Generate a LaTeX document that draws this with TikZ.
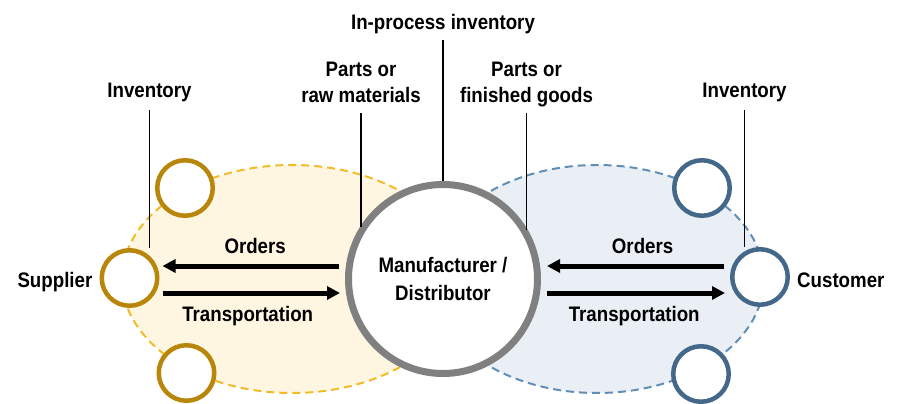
\documentclass[tikz,border=0pt]{standalone}
\usepackage{fontspec}
\setmainfont{Liberation Sans}[FakeStretch=0.89]
\usetikzlibrary{positioning,arrows.meta}
\definecolor{supGold}{RGB}{184,134,11}
\definecolor{supFill}{RGB}{255,246,225}
\definecolor{supDash}{RGB}{242,188,40}
\definecolor{cusBlue}{RGB}{68,104,138}
\definecolor{cusFill}{RGB}{234,239,245}
\definecolor{cusDash}{RGB}{98,142,182}
\definecolor{mfgGray}{RGB}{128,128,128}
\newcommand{\lblfont}{\fontsize{21}{26}\selectfont\bfseries}
\tikzset{
  lbl/.style={font=\lblfont, inner sep=0pt, text height=15pt, text depth=4.5pt},
  lbltwo/.style={font=\lblfont, inner sep=0pt, align=center},
  site/.style={circle, draw=#1, line width=4.5pt, fill=white, minimum size=55.5pt, inner sep=0pt},
  lead/.style={black, line width=1.8pt},
  flow/.style={line width=5pt, -{Triangle[length=13pt,width=13pt]}},
  zone/.style={draw=#1, dash pattern=on 8pt off 5pt, line width=2pt}
}

\begin{document}
\begin{tikzpicture}[x=1pt, y=-1pt]
  \useasboundingbox (0,0) rectangle (900,404);
  % supplier and customer areas
  \draw[zone=supDash, fill=supFill] (292,279) ellipse [x radius=170pt, y radius=114pt];
  \draw[zone=cusDash, fill=cusFill] (597,279) ellipse [x radius=167pt, y radius=114pt];

  % sites
  \node[site=supGold] (supC) at (129.5,278) {};
  \node[site=supGold] (supTop) at (185,188) {};
  \node[site=supGold] (supBot) at (186.5,373) {};
  \node[site=cusBlue] (cusC) at (760,277) {};
  \node[site=cusBlue] (cusTop) at (702,188) {};
  \node[site=cusBlue] (cusBot) at (701,374) {};
  \node[circle, draw=mfgGray, line width=7pt, fill=white, minimum size=189pt, inner sep=0pt,
        font=\fontsize{21}{28}\selectfont\bfseries, align=center] (mfgC) at (443,279) {Manufacturer /\\Distributor};

  % labels
  \node[lbl, left=7pt of supC, yshift=-4pt] (supL) {Supplier};
  \node[lbl, right=7pt of cusC, yshift=-5pt] (cusL) {Customer};
  \node[lbl, anchor=base] (inproc) at (443,30) {In-process inventory};
  \node[lbl, anchor=base] (invSup) at (149.5,98) {Inventory};
  \node[lbl, anchor=base] (invCus) at (744.5,98) {Inventory};
  \node[lbltwo, anchor=north] (raw) at (361,62) {Parts or\\raw materials};
  \node[lbltwo, anchor=north] (fin) at (526.5,62) {Parts or\\finished goods};

  % leader lines
  \draw[lead] ([yshift=-5.5pt]inproc.south) -- (mfgC.north);
  \draw[lead] ([yshift=-7.5pt]invSup.south) -- (invSup.south |- supC.north);
  \draw[lead] ([yshift=-7.5pt]invCus.south) -- (invCus.south |- cusC.north);
  \draw[lead] ([yshift=-10pt]raw.south) -- (raw.south |- mfgC.148);
  \draw[lead] ([yshift=-6pt]fin.south) -- (fin.south |- mfgC.30);

  % flows
  \draw[flow] ([xshift=-6pt,yshift=13pt]mfgC.west) -- node[lbl, pos=0.475, above=5.5pt] (ordSup) {Orders} ([xshift=3pt,yshift=12pt]supC.east);
  \draw[flow] ([xshift=3pt,yshift=-15pt]supC.east) -- node[lbl, pos=0.48, below=11pt] (trnSup) {Transportation} ([xshift=-5pt,yshift=-14pt]mfgC.west);
  \draw[flow] ([xshift=-6pt,yshift=11pt]cusC.west) -- node[lbl, pos=0.46, above=5.5pt] (ordCus) {Orders} ([xshift=6pt,yshift=13pt]mfgC.east);
  \draw[flow] ([xshift=6pt,yshift=-14pt]mfgC.east) -- node[lbl, pos=0.49, below=11pt] (trnCus) {Transportation} ([xshift=-5pt,yshift=-16pt]cusC.west);
\end{tikzpicture}
\end{document}
